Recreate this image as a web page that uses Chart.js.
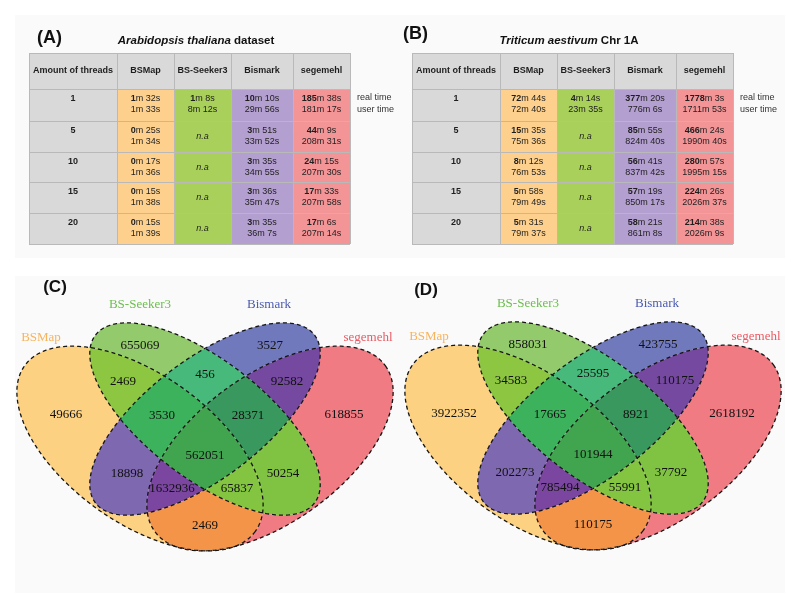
<!DOCTYPE html>
<html lang="en">
<head>
<meta charset="UTF-8">
<title>Runtime and CpG overlap of four aligners</title>
<script src="https://cdn.jsdelivr.net/npm/chart.js"></script>
<style>
  html, body { margin: 0; padding: 0; background: #fff; }
  #wrap { position: relative; width: 800px; height: 610px; }
</style>
</head>
<body>
<div id="wrap"><canvas id="fig" width="800" height="610"></canvas></div>
<script>
// ---------- data ----------
const threads = [1, 5, 10, 15, 20];
const tools = ['BSMap', 'BS-Seeker3', 'Bismark', 'segemehl'];

// run times in seconds (null = n.a), Arabidopsis thaliana
const athBSMapReal = [92, 25, 17, 15, 15];
const athBSMapUser = [93, 94, 96, 98, 99];
const athSeekerReal = [68, null, null, null, null];
const athSeekerUser = [492, null, null, null, null];
const athBismarkReal = [610, 231, 215, 216, 215];
const athBismarkUser = [1796, 2032, 2095, 2147, 2167];
const athSegemehlReal = [11138, 2649, 1455, 1053, 1026];
const athSegemehlUser = [10877, 12511, 12450, 12478, 12434];

// run times in seconds (null = n.a), Triticum aestivum Chr 1A
const taeBSMapReal = [4364, 935, 492, 358, 331];
const taeBSMapUser = [4360, 4536, 4613, 4789, 4777];
const taeSeekerReal = [254, null, null, null, null];
const taeSeekerUser = [1415, null, null, null, null];
const taeBismarkReal = [22640, 5155, 3401, 3439, 3501];
const taeBismarkUser = [46566, 49480, 50262, 51017, 51668];
const taeSegemehlReal = [106683, 27984, 16857, 13466, 12878];
const taeSegemehlUser = [102713, 119440, 119715, 121597, 121569];

// Venn regions, membership bits: BSMap, BS-Seeker3, Bismark, segemehl
const regions = [0b1000, 0b0100, 0b0010, 0b0001, 0b1100, 0b0110, 0b0011, 0b1110,
                 0b0111, 0b1010, 0b0101, 0b1111, 0b1011, 0b1101, 0b1001];
const athCounts = [49666, 655069, 3527, 618855, 2469, 456, 92582, 3530,
                   28371, 18898, 50254, 562051, 1632936, 65837, 2469];
const taeCounts = [3922352, 858031, 423755, 2618192, 34583, 25595, 110175, 17665,
                   8921, 202273, 37792, 101944, 785494, 55991, 110175];

// ---------- layout / style ----------
const toolFill = ['#fdd08e', '#a9d05b', '#b49fd1', '#f39597'];
const greyFill = '#d9d9d9';
const colEdges = [0, 88, 145, 202, 264, 321];
const rowEdges = [53, 89, 121, 152, 182, 213, 244];

const regionColors = ['#fcd182', '#93ca6b', '#7179bd', '#f07b83', '#8dc641', '#47b97b', '#7549a0', '#3bb25b',
                      '#38985d', '#7e68b0', '#80c242', '#41a44f', '#7b46a0', '#83c441', '#f49449'];
const setColors = ['#f7b45c', '#6cbd4e', '#4a5aaf', '#e85a64'];
// label anchors in Venn units (origin = centre of the two inner ellipses, y down)
const countPos = [[-139, -4], [-65, -73], [65, -73], [139, -4], [-82, -37], [0, -44], [82, -37], [-43, -3],
                  [43, -3], [-78, 55], [78, 55], [0, 37], [-33, 70], [32, 70], [0, 107]];
const setPos = [[-164, -81], [-65, -114], [64, -114], [163, -81]];
const ellipses = [
  { cx: -65, cy: 29.5, a: 142, b: 74, rot: 35.7 },
  { cx: 0, cy: 0, a: 138, b: 59, rot: 37.5 },
  { cx: 0, cy: 0, a: 138, b: 59, rot: -37.5 },
  { cx: 65, cy: 29.5, a: 142, b: 74, rot: -35.7 }
];

const SANS = '"Liberation Sans", Arial, sans-serif';
const SERIF = '"Liberation Serif", "Times New Roman", serif';

function fmt(s) { return [String(Math.floor(s / 60)), 'm ' + (s % 60) + 's']; }

// text made of a bold part and a regular part, centred on x
function mixedText(ctx, x, y, boldPart, restPart, size) {
  ctx.font = 'bold ' + size + 'px ' + SANS;
  const w1 = ctx.measureText(boldPart).width;
  ctx.font = size + 'px ' + SANS;
  const w2 = ctx.measureText(restPart).width;
  const x0 = x - (w1 + w2) / 2;
  ctx.textAlign = 'left';
  ctx.font = 'bold ' + size + 'px ' + SANS;
  ctx.fillText(boldPart, x0, y);
  ctx.font = size + 'px ' + SANS;
  ctx.fillText(restPart, x0 + w1, y);
}

function drawTable(ctx, sx, sy, t) {
  const X = v => sx.getPixelForValue(t.left + v);
  const Y = v => sy.getPixelForValue(v);
  const nRows = rowEdges.length - 1, nCols = colEdges.length - 1;
  // cells
  for (let r = 0; r < nRows; r++) {
    for (let c = 0; c < nCols; c++) {
      ctx.fillStyle = (r === 0 || c === 0) ? greyFill : toolFill[c - 1];
      ctx.fillRect(X(colEdges[c]), Y(rowEdges[r]), X(colEdges[c + 1]) - X(colEdges[c]), Y(rowEdges[r + 1]) - Y(rowEdges[r]));
    }
  }
  // grid
  ctx.strokeStyle = '#b9b9b9';
  ctx.lineWidth = 1;
  ctx.beginPath();
  rowEdges.forEach(v => { ctx.moveTo(X(0), Y(v) + 0.5); ctx.lineTo(X(colEdges[nCols]), Y(v) + 0.5); });
  colEdges.forEach(v => { ctx.moveTo(X(v) + 0.5, Y(rowEdges[0])); ctx.lineTo(X(v) + 0.5, Y(rowEdges[nRows])); });
  ctx.stroke();

  ctx.fillStyle = '#1e1e1e';
  ctx.textBaseline = 'middle';
  ctx.textAlign = 'center';
  const hy = (Y(rowEdges[0]) + Y(rowEdges[1])) / 2;
  ctx.font = 'bold 9px ' + SANS;
  ctx.fillText('Amount of threads', (X(colEdges[0]) + X(colEdges[1])) / 2, hy);
  tools.forEach((name, i) => ctx.fillText(name, (X(colEdges[i + 1]) + X(colEdges[i + 2])) / 2, hy));

  threads.forEach((n, r) => {
    const top = Y(rowEdges[r + 1]);
    const mid = (top + Y(rowEdges[r + 2])) / 2;
    ctx.textAlign = 'center';
    ctx.font = 'bold 9px ' + SANS;
    ctx.fillText(String(n), (X(colEdges[0]) + X(colEdges[1])) / 2, top + 10);
    t.real.forEach((col, c) => {
      const cx = (X(colEdges[c + 1]) + X(colEdges[c + 2])) / 2;
      if (col[r] == null) {
        ctx.textAlign = 'center';
        ctx.font = 'italic 9px ' + SANS;
        ctx.fillText('n.a', cx, mid);
        return;
      }
      const a = fmt(col[r]);
      mixedText(ctx, cx, top + 10, a[0], a[1], 9);
      const u = fmt(t.user[c][r]);
      ctx.textAlign = 'center';
      ctx.font = '9px ' + SANS;
      ctx.fillText(u[0] + u[1], cx, top + 21);
    });
  });

  // side note
  ctx.textAlign = 'left';
  ctx.font = '9px ' + SANS;
  ctx.fillStyle = '#333';
  ctx.fillText('real time', X(colEdges[nCols]) + 7, Y(rowEdges[1]) + 9);
  ctx.fillText('user time', X(colEdges[nCols]) + 7, Y(rowEdges[1]) + 21);

  // panel letter and title
  ctx.fillStyle = '#111';
  ctx.font = 'bold 18px ' + SANS;
  ctx.fillText(t.letter, sx.getPixelForValue(t.letterAt[0]), sy.getPixelForValue(t.letterAt[1]));
  const tf = 11.5;
  ctx.font = 'bold italic ' + tf + 'px ' + SANS;
  const w1 = ctx.measureText(t.titleItalic).width;
  ctx.font = 'bold ' + tf + 'px ' + SANS;
  const w2 = ctx.measureText(t.titleRest).width;
  const x0 = sx.getPixelForValue(t.titleAt[0]) - (w1 + w2) / 2;
  const ty = sy.getPixelForValue(t.titleAt[1]);
  ctx.font = 'bold italic ' + tf + 'px ' + SANS;
  ctx.fillText(t.titleItalic, x0, ty);
  ctx.font = 'bold ' + tf + 'px ' + SANS;
  ctx.fillText(t.titleRest, x0 + w1, ty);
}

function ellipsePath(e, xs, ys) {
  const p = new Path2D(), r = e.rot * Math.PI / 180;
  for (let i = 0; i <= 200; i++) {
    const t = i / 200 * 2 * Math.PI;
    const x = e.cx + e.a * Math.cos(t) * Math.cos(r) - e.b * Math.sin(t) * Math.sin(r);
    const y = e.cy + e.a * Math.cos(t) * Math.sin(r) + e.b * Math.sin(t) * Math.cos(r);
    const px = xs.getPixelForValue(x), py = ys.getPixelForValue(y);
    if (i) p.lineTo(px, py); else p.moveTo(px, py);
  }
  p.closePath();
  return p;
}

function drawVenn(chart, xs, ys, letter, letterAt) {
  const ctx = chart.ctx, W = chart.width, H = chart.height;
  const paths = ellipses.map(e => ellipsePath(e, xs, ys));
  regions.forEach((m, k) => {
    ctx.save();
    paths.forEach((p, i) => {
      if (m & (8 >> i)) ctx.clip(p);
      else {
        const q = new Path2D();
        q.rect(0, 0, W, H);
        q.addPath(p);
        ctx.clip(q, 'evenodd');
      }
    });
    ctx.fillStyle = regionColors[k];
    ctx.fillRect(0, 0, W, H);
    ctx.restore();
  });
  ctx.save();
  ctx.setLineDash([4, 3]);
  ctx.lineWidth = 1.3;
  ctx.strokeStyle = '#151515';
  paths.forEach(p => ctx.stroke(p));
  ctx.restore();

  ctx.textAlign = 'center';
  ctx.textBaseline = 'middle';
  ctx.font = '13px ' + SERIF;
  tools.forEach((name, i) => {
    ctx.fillStyle = setColors[i];
    ctx.fillText(name, xs.getPixelForValue(setPos[i][0]), ys.getPixelForValue(setPos[i][1]));
  });
  ctx.fillStyle = '#111';
  ctx.font = 'bold 17px ' + SANS;
  ctx.fillText(letter, xs.getPixelForValue(letterAt[0]), ys.getPixelForValue(letterAt[1]));
}

const figurePlugin = {
  id: 'figure',
  beforeDatasetsDraw(chart) {
    const ctx = chart.ctx, s = chart.scales;
    ctx.save();
    ctx.fillStyle = '#fafafa';
    ctx.fillRect(s.x.getPixelForValue(15), s.y.getPixelForValue(15), 770, 243);
    ctx.fillRect(s.x.getPixelForValue(15), s.y.getPixelForValue(276), 770, 317);
    drawTable(ctx, s.x, s.y, {
      left: 29, letter: '(A)', letterAt: [37, 38],
      titleItalic: 'Arabidopsis thaliana', titleRest: ' dataset', titleAt: [196, 41],
      real: [athBSMapReal, athSeekerReal, athBismarkReal, athSegemehlReal],
      user: [athBSMapUser, athSeekerUser, athBismarkUser, athSegemehlUser]
    });
    drawTable(ctx, s.x, s.y, {
      left: 412, letter: '(B)', letterAt: [403, 34],
      titleItalic: 'Triticum aestivum', titleRest: ' Chr 1A', titleAt: [569, 41],
      real: [taeBSMapReal, taeSeekerReal, taeBismarkReal, taeSegemehlReal],
      user: [taeBSMapUser, taeSeekerUser, taeBismarkUser, taeSegemehlUser]
    });
    drawVenn(chart, s.xC, s.yC, '(C)', [-150, -132]);
    drawVenn(chart, s.xD, s.yD, '(D)', [-167, -128]);
    ctx.restore();
  },
  afterDatasetsDraw(chart) {
    const ctx = chart.ctx;
    ctx.save();
    ctx.fillStyle = '#111';
    ctx.font = '13px ' + SERIF;
    ctx.textAlign = 'center';
    ctx.textBaseline = 'middle';
    chart.data.datasets.forEach((ds, i) => {
      chart.getDatasetMeta(i).data.forEach((pt, j) => ctx.fillText(String(ds.counts[j]), pt.x, pt.y));
    });
    ctx.restore();
  }
};

const hidden = { type: 'linear', display: false };
new Chart(document.getElementById('fig'), {
  type: 'scatter',
  data: {
    datasets: [
      { label: 'Arabidopsis thaliana', counts: athCounts, xAxisID: 'xC', yAxisID: 'yC', pointRadius: 0,
        data: countPos.map(p => ({ x: p[0], y: p[1] })) },
      { label: 'Triticum aestivum', counts: taeCounts, xAxisID: 'xD', yAxisID: 'yD', pointRadius: 0,
        data: countPos.map(p => ({ x: p[0], y: p[1] })) }
    ]
  },
  options: {
    responsive: false,
    animation: false,
    events: [],
    layout: { padding: 0 },
    plugins: { legend: { display: false }, tooltip: { enabled: false } },
    scales: {
      x: { ...hidden, axis: 'x', min: 0, max: 800 },
      y: { ...hidden, axis: 'y', min: 0, max: 610, reverse: true },
      xC: { ...hidden, axis: 'x', min: -205, max: 595 },
      yC: { ...hidden, axis: 'y', min: -419, max: 191, reverse: true },
      xD: { ...hidden, axis: 'x', min: -593, max: 207 },
      yD: { ...hidden, axis: 'y', min: -418, max: 192, reverse: true }
    }
  },
  plugins: [figurePlugin]
});
</script>
</body>
</html>
